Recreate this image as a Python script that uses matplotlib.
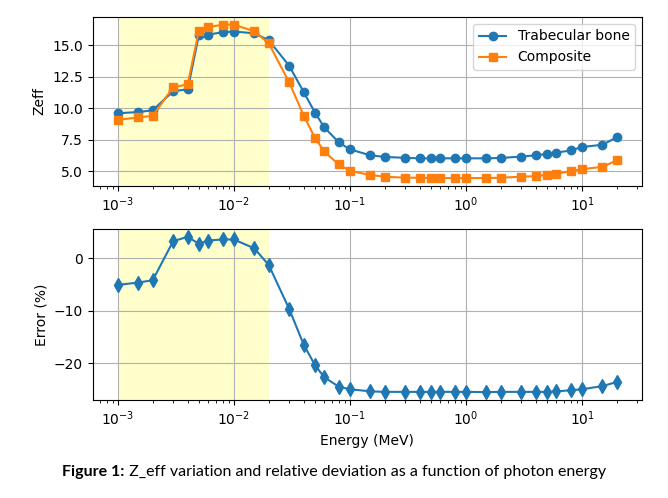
import matplotlib
matplotlib.use('Agg')
import matplotlib.pyplot as plt
import numpy as np

# energia dei fotoni (MeV)
energy = [0.001, 0.0015, 0.002, 0.003, 0.004, 0.005, 0.006, 0.008, 0.01, 0.015, 0.02,
          0.03, 0.04, 0.05, 0.06, 0.08, 0.1, 0.15, 0.2, 0.3, 0.4, 0.5, 0.6, 0.8,
          1, 1.5, 2, 3, 4, 5, 6, 8, 10, 15, 20]

zeff_bone = [9.6, 9.7, 9.84, 11.36, 11.5, 15.84, 15.86, 16.04, 16.1, 15.96, 15.4,
             13.37, 11.28, 9.66, 8.49, 7.3, 6.73, 6.26, 6.13, 6.06, 6.02, 6.02, 6.02, 6.02,
             6.02, 6.02, 6.05, 6.16, 6.26, 6.37, 6.47, 6.65, 6.92, 7.1, 7.7]

zeff_comp = [9.08, 9.27, 9.4, 11.67, 11.9, 16.18, 16.44, 16.65, 16.65, 16.12, 15.15,
             12.06, 9.4, 7.65, 6.57, 5.53, 5.03, 4.69, 4.56, 4.48, 4.48, 4.45, 4.45, 4.45,
             4.45, 4.45, 4.48, 4.56, 4.6, 4.72, 4.8, 5.0, 5.16, 5.34, 5.87]

err_pct = [-5.07, -4.63, -4.18, 3.28, 4.1, 2.77, 3.4, 3.6, 3.6, 1.9, -1.3,
           -9.7, -16.5, -20.4, -22.7, -24.5, -25.0, -25.4, -25.5, -25.5, -25.5, -25.5, -25.5, -25.5,
           -25.5, -25.55, -25.5, -25.5, -25.5, -25.5, -25.4, -25.2, -25.0, -24.4, -23.6]

span_lo, span_hi = 0.001, 0.02

fig = plt.figure(figsize=(6.68, 4.98), dpi=100)
ax1 = fig.add_axes([0.139, 0.627, 0.822, 0.339])
ax2 = fig.add_axes([0.139, 0.197, 0.822, 0.343])

ax1.axvspan(span_lo, span_hi, color='yellow', alpha=0.2, lw=0)
ax1.plot(energy, zeff_bone, '-o', color='#1f77b4', ms=6, label='Trabecular bone')
ax1.plot(energy, zeff_comp, '-s', color='#ff7f0e', ms=6, label='Composite')
ax1.set_xscale('log')
ax1.set_ylabel('Zeff')
ax1.grid(True)
ax1.legend(loc='upper right')

ax2.axvspan(span_lo, span_hi, color='yellow', alpha=0.2, lw=0)
ax2.plot(energy, err_pct, '-d', color='#1f77b4', ms=7)
ax2.set_xscale('log')
ax2.set_ylabel('Error (%)')
ax2.set_xlabel('Energy (MeV)')
ax2.grid(True)

# didascalia: parte in grassetto + parte normale, centrate insieme
t1 = fig.text(0, 0.053, 'Figure 1:', fontweight='bold', family='Lato', fontsize=11.5, va='center')
t2 = fig.text(0, 0.053, ' Z_eff variation and relative deviation as a function of photon energy',
              family='Lato', fontsize=11.5, va='center')
fig.canvas.draw()
r = fig.canvas.get_renderer()
w1 = t1.get_window_extent(r).width
w2 = t2.get_window_extent(r).width
W = fig.bbox.width
x0 = (W - w1 - w2) / 2
t1.set_x(x0 / W)
t2.set_x((x0 + w1) / W)

fig.savefig('out.png', dpi=100)
